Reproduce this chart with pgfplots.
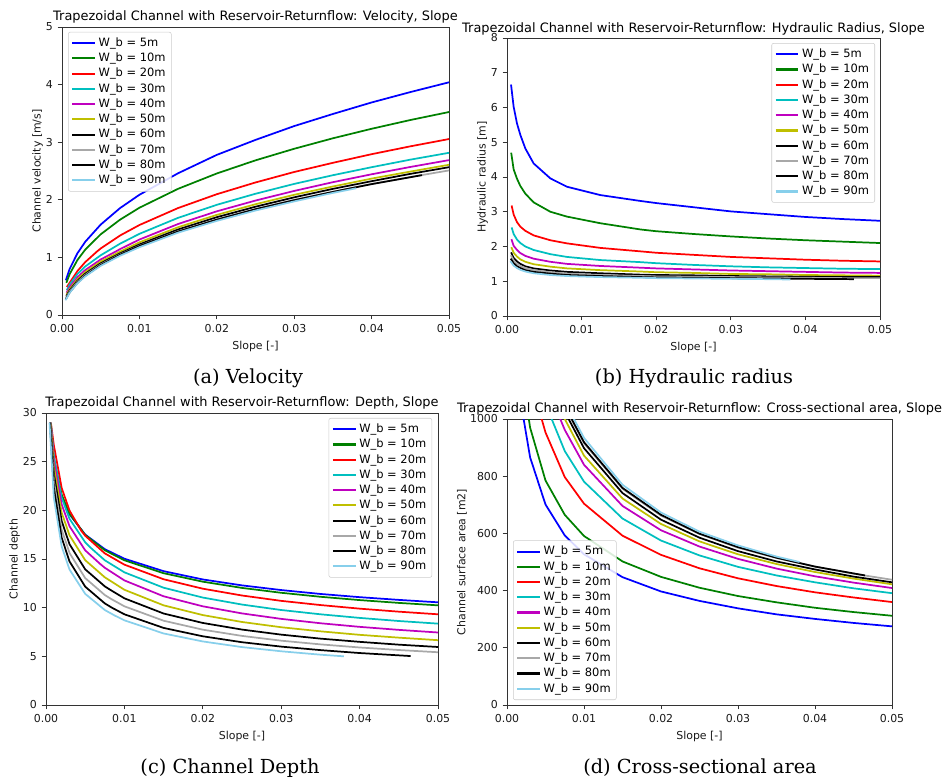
\documentclass[border=0pt]{standalone}
\usepackage{fontspec}
\usepackage{pgfplots}
\usepackage{pgfplotstable}
\pgfplotsset{compat=1.18}
\newfontfamily\dejavu{DejaVu Sans}
\newfontfamily\capfont{DejaVu Serif}
\definecolor{mb}{rgb}{0,0,1}
\definecolor{mg}{rgb}{0,0.5,0}
\definecolor{mr}{rgb}{1,0,0}
\definecolor{mc}{rgb}{0,0.75,0.75}
\definecolor{mm}{rgb}{0.75,0,0.75}
\definecolor{my}{rgb}{0.75,0.75,0}
\definecolor{mk}{rgb}{0,0,0}
\definecolor{mgray}{rgb}{0.66,0.66,0.66}
\definecolor{msky}{rgb}{0.53,0.81,0.92}

% columns: S = slope, d = depth, A = area, V = velocity
\pgfplotstableread{
S d A V
0.0005 29.00 1827 0.602
0.001 24.95 1370 0.803
0.002 21.42 1025 1.073
0.003 19.59 866 1.271
0.005 17.51 701 1.570
0.0075 16.01 593 1.856
0.01 15.03 527 2.087
0.015 13.75 447 2.461
0.02 12.90 397 2.780
0.025 12.29 364 3.040
0.03 11.81 338 3.280
0.035 11.41 317 3.490
0.04 11.08 301 3.690
0.045 10.80 287 3.870
0.05 10.55 275 4.040
}\tA
\pgfplotstableread{
S d A V
0.00056 29.00 1972 0.558
0.001 25.38 1542 0.713
0.002 21.61 1150 0.956
0.003 19.66 970 1.134
0.005 17.47 785 1.401
0.0075 15.90 665 1.655
0.01 14.87 591 1.862
0.015 13.54 502 2.191
0.02 12.67 448 2.457
0.025 12.03 410 2.685
0.03 11.53 381 2.886
0.035 11.12 359 3.068
0.04 10.78 340 3.233
0.045 10.49 325 3.385
0.05 10.24 312 3.524
}\tB
\pgfplotstableread{
S d A V
0.00062 29.00 2262 0.486
0.001 26.70 1960 0.561
0.002 22.30 1441 0.764
0.003 19.98 1198 0.918
0.0045 17.90 1000 1.100
0.005 17.39 953 1.155
0.0075 15.58 797 1.380
0.01 14.42 704 1.562
0.015 12.92 592 1.857
0.02 11.95 525 2.097
0.025 11.25 478 2.301
0.03 10.70 443 2.483
0.035 10.27 416 2.642
0.04 9.90 394 2.792
0.045 9.59 376 2.928
0.05 9.32 360 3.055
}\tC
\pgfplotstableread{
S d A V
0.00062 29.00 2552 0.431
0.001 25.56 2073 0.531
0.002 21.29 1545 0.712
0.003 19.13 1306 0.842
0.005 16.72 1061 1.037
0.0058 16.08 1000 1.101
0.0075 14.87 888 1.238
0.01 13.63 781 1.409
0.015 12.05 652 1.687
0.02 11.04 575 1.913
0.025 10.32 523 2.105
0.03 9.76 483 2.276
0.035 9.32 453 2.427
0.04 8.95 429 2.566
0.045 8.63 408 2.697
0.05 8.36 391 2.816
}\tD
\pgfplotstableread{
S d A V
0.0006 29.00 2842 0.387
0.001 25.09 2263 0.486
0.002 20.61 1674 0.657
0.003 18.37 1410 0.780
0.005 15.89 1141 0.964
0.0069 14.50 1001 1.099
0.0075 14.10 962 1.144
0.01 12.80 840 1.310
0.015 11.17 696 1.580
0.02 10.14 611 1.800
0.025 9.41 554 1.987
0.03 8.85 511 2.154
0.035 8.40 477 2.306
0.04 8.03 450 2.443
0.045 7.72 428 2.570
0.05 7.45 409 2.689
}\tE
\pgfplotstableread{
S d A V
0.00058 29.00 3132 0.351
0.001 24.49 2424 0.454
0.002 19.76 1769 0.622
0.003 17.43 1479 0.744
0.005 14.88 1187 0.927
0.0075 13.12 1000 1.100
0.01 11.84 872 1.261
0.015 10.24 722 1.524
0.02 9.24 633 1.738
0.025 8.53 572 1.923
0.03 7.99 527 2.087
0.035 7.57 493 2.231
0.04 7.21 465 2.368
0.045 6.92 442 2.490
0.05 6.66 422 2.608
}\tF
\pgfplotstableread{
S d A V
0.00055 29.00 3422 0.321
0.001 23.78 2558 0.430
0.002 18.90 1848 0.595
0.003 16.52 1537 0.716
0.005 13.94 1225 0.898
0.0075 12.19 1029 1.069
0.008 11.93 1000 1.100
0.01 10.96 898 1.225
0.015 9.40 741 1.485
0.02 8.43 648 1.698
0.025 7.75 585 1.880
0.03 7.23 538 2.043
0.035 6.82 502 2.190
0.04 6.49 474 2.323
0.045 6.20 449 2.450
0.05 5.96 429 2.566
}\tG
\pgfplotstableread{
S d A V
0.00052 29.00 3712 0.296
0.001 23.02 2671 0.412
0.002 18.02 1911 0.576
0.003 15.62 1581 0.696
0.005 13.04 1253 0.878
0.0075 11.30 1046 1.051
0.0083 10.90 1001 1.099
0.01 10.14 915 1.202
0.015 8.66 756 1.455
0.02 7.74 662 1.663
0.025 7.10 598 1.840
0.03 6.61 550 2.000
0.035 6.23 514 2.141
0.04 5.91 484 2.275
0.045 5.65 459 2.395
0.05 5.42 438 2.510
}\tH
\pgfplotstableread{
S d A V
0.0005 29.00 4002 0.275
0.001 22.32 2782 0.395
0.002 17.19 1966 0.559
0.003 14.75 1615 0.681
0.005 12.16 1269 0.867
0.0075 10.44 1053 1.044
0.0084 10.00 1000 1.100
0.01 9.32 919 1.197
0.015 7.92 759 1.449
0.02 7.06 665 1.655
0.025 6.45 599 1.836
0.03 6.00 552 1.993
0.035 5.64 515 2.137
0.04 5.34 484 2.272
0.0465 5.03 453 2.428
}\tI
\pgfplotstableread{
S d A V
0.00045 29.00 4292 0.256
0.001 21.30 2824 0.389
0.002 16.29 1997 0.551
0.003 13.92 1640 0.671
0.005 11.42 1289 0.854
0.0075 9.76 1069 1.029
0.0087 9.22 1000 1.100
0.01 8.70 934 1.177
0.015 7.35 770 1.430
0.02 6.53 673 1.634
0.025 5.95 606 1.814
0.03 5.52 558 1.972
0.035 5.17 519 2.120
0.038 5.00 500 2.200
}\tJ

% hydraulic radius
\pgfplotstableread{
S R
0.00054 6.66
0.00089 6.02
0.00134 5.54
0.00179 5.21
0.00246 4.82
0.00357 4.39
0.00581 3.96
0.00804 3.72
0.0125 3.48
0.0179 3.31
0.02 3.25
0.025 3.13
0.03 3.01
0.035 2.93
0.04 2.85
0.045 2.79
0.05 2.74
}\rA
\pgfplotstableread{
S R
0.00056 4.70
0.00089 4.22
0.00134 3.95
0.00179 3.74
0.00246 3.52
0.00357 3.27
0.00581 3.00
0.00804 2.86
0.0125 2.67
0.0179 2.49
0.02 2.44
0.025 2.36
0.03 2.29
0.035 2.23
0.04 2.18
0.045 2.14
0.05 2.10
}\rB
\pgfplotstableread{
S R
0.00062 3.18
0.00089 2.92
0.00134 2.70
0.00179 2.57
0.00246 2.45
0.00357 2.32
0.00581 2.18
0.00804 2.09
0.0125 1.96
0.0179 1.86
0.02 1.82
0.025 1.76
0.03 1.70
0.035 1.66
0.04 1.62
0.045 1.59
0.05 1.57
}\rC
\pgfplotstableread{
S R
0.00062 2.55
0.00089 2.36
0.00134 2.20
0.00179 2.10
0.00246 2.00
0.00357 1.90
0.00581 1.78
0.00804 1.70
0.0125 1.61
0.0179 1.55
0.02 1.52
0.025 1.47
0.03 1.43
0.035 1.40
0.04 1.38
0.045 1.36
0.05 1.35
}\rD
\pgfplotstableread{
S R
0.0006 2.21
0.00089 2.02
0.00134 1.90
0.00179 1.81
0.00246 1.73
0.00357 1.65
0.00581 1.56
0.00804 1.50
0.0125 1.44
0.0179 1.39
0.02 1.37
0.025 1.34
0.03 1.31
0.035 1.29
0.04 1.27
0.045 1.25
0.05 1.24
}\rE
\pgfplotstableread{
S R
0.00058 1.98
0.00089 1.82
0.00134 1.71
0.00179 1.63
0.00246 1.56
0.00357 1.49
0.00581 1.42
0.00804 1.37
0.0125 1.32
0.0179 1.28
0.02 1.26
0.025 1.24
0.03 1.21
0.035 1.20
0.04 1.18
0.045 1.17
0.05 1.16
}\rF
\pgfplotstableread{
S R
0.00055 1.83
0.00089 1.67
0.00134 1.57
0.00179 1.50
0.00246 1.43
0.00357 1.37
0.00581 1.31
0.00804 1.27
0.0125 1.23
0.0179 1.19
0.02 1.18
0.025 1.17
0.03 1.15
0.035 1.14
0.04 1.13
0.045 1.12
0.05 1.12
}\rG
\pgfplotstableread{
S R
0.00052 1.75
0.00089 1.60
0.00134 1.50
0.00179 1.44
0.00246 1.38
0.00357 1.32
0.00581 1.26
0.00804 1.22
0.0125 1.18
0.0179 1.15
0.02 1.14
0.025 1.13
0.03 1.12
0.035 1.11
0.04 1.10
0.045 1.09
0.05 1.09
}\rH
\pgfplotstableread{
S R
0.0005 1.65
0.00089 1.52
0.00134 1.43
0.00179 1.38
0.00246 1.32
0.00357 1.27
0.00581 1.22
0.00804 1.18
0.0125 1.15
0.0179 1.12
0.02 1.11
0.025 1.10
0.03 1.09
0.035 1.08
0.04 1.07
0.0465 1.06
}\rI
\pgfplotstableread{
S R
0.00045 1.58
0.00089 1.45
0.00134 1.38
0.00179 1.33
0.00246 1.28
0.00357 1.23
0.00581 1.18
0.00804 1.15
0.0125 1.12
0.0179 1.10
0.02 1.09
0.025 1.08
0.03 1.07
0.035 1.06
0.038 1.05
}\rJ

\pgfplotsset{
  common/.style={
    scale only axis, anchor=south west,
    xmin=0, xmax=0.05,
    xtick={0,0.01,0.02,0.03,0.04,0.05},
    scaled x ticks=false, scaled y ticks=false,
    xticklabel style={/pgf/number format/.cd, fixed, fixed zerofill, precision=2},
    /pgf/number format/1000 sep={},
    /pgf/number format/assume math mode=true,
    tick align=outside, tick pos=left,
    major tick length=3.3pt,
    axis line style={black!80, line width=0.6pt},
    every tick/.style={black!80, line width=0.6pt},
    ticklabel style={font=\dejavu\fontsize{8.2}{9.8}\selectfont, black!90},
    label style={font=\dejavu\fontsize{8.2}{9.8}\selectfont, black!90},
    ylabel style={yshift=-4.5pt},
    title style={font=\dejavu\fontsize{9.7}{11}\selectfont, anchor=base, yshift=-1pt},
    xlabel={Slope [-]},
    legend cell align=left,
    legend style={font=\dejavu\fontsize{8.6}{10.3}\selectfont, draw=black!20, fill=white,
      fill opacity=0.85, text opacity=1, rounded corners=1.5pt, row sep=-0.6pt,
      inner sep=2.2pt},
    legend image code/.code={\draw[##1, line width=1.6pt] (0pt,0pt) -- (17pt,0pt);},
  },
  s1/.style={color=mb, line width=1.3pt, line join=round},
  s2/.style={color=mg, line width=1.3pt, line join=round},
  s3/.style={color=mr, line width=1.3pt, line join=round},
  s4/.style={color=mc, line width=1.3pt, line join=round},
  s5/.style={color=mm, line width=1.3pt, line join=round},
  s6/.style={color=my, line width=1.3pt, line join=round},
  s7/.style={color=mk, line width=1.3pt, line join=round},
  s8/.style={color=mgray, line width=1.3pt, line join=round},
  s9/.style={color=mk, line width=1.3pt, line join=round},
  s10/.style={color=msky, line width=1.3pt, line join=round},
}

\begin{document}
\begin{tikzpicture}
% (a) Velocity
\begin{axis}[common, at={(46.5pt,351pt)}, width=290.25pt, height=216pt,
  ymin=0, ymax=5, ytick={0,1,2,3,4,5},
  title={Trapezoidal Channel with Reservoir-Returnflow: Velocity, Slope},
  ylabel={Channel velocity [m/s]},
  legend style={at={(0.0155,0.983)}, anchor=north west}]
\addplot[s1] table[x=S,y=V]{\tA}; \addlegendentry{W\_b = 5m}
\addplot[s2] table[x=S,y=V]{\tB}; \addlegendentry{W\_b = 10m}
\addplot[s3] table[x=S,y=V]{\tC}; \addlegendentry{W\_b = 20m}
\addplot[s4] table[x=S,y=V]{\tD}; \addlegendentry{W\_b = 30m}
\addplot[s5] table[x=S,y=V]{\tE}; \addlegendentry{W\_b = 40m}
\addplot[s6] table[x=S,y=V]{\tF}; \addlegendentry{W\_b = 50m}
\addplot[s7] table[x=S,y=V]{\tG}; \addlegendentry{W\_b = 60m}
\addplot[s8] table[x=S,y=V]{\tH}; \addlegendentry{W\_b = 70m}
\addplot[s9] table[x=S,y=V]{\tI}; \addlegendentry{W\_b = 80m}
\addplot[s10] table[x=S,y=V]{\tJ}; \addlegendentry{W\_b = 90m}
\end{axis}
% (b) Hydraulic radius
\begin{axis}[common, at={(380.25pt,350.25pt)}, width=279.75pt, height=208.5pt,
  ymin=0, ymax=8, ytick={0,1,2,3,4,5,6,7,8},
  title={Trapezoidal Channel with Reservoir-Returnflow: Hydraulic Radius, Slope},
  title style={yshift=-0.8pt},
  ylabel={Hydraulic radius [m]},
  legend style={at={(0.9866,0.982)}, anchor=north east}]
\addplot[s1] table[x=S,y=R]{\rA}; \addlegendentry{W\_b = 5m}
\addplot[s2] table[x=S,y=R]{\rB}; \addlegendentry{W\_b = 10m}
\addplot[s3] table[x=S,y=R]{\rC}; \addlegendentry{W\_b = 20m}
\addplot[s4] table[x=S,y=R]{\rD}; \addlegendentry{W\_b = 30m}
\addplot[s5] table[x=S,y=R]{\rE}; \addlegendentry{W\_b = 40m}
\addplot[s6] table[x=S,y=R]{\rF}; \addlegendentry{W\_b = 50m}
\addplot[s7] table[x=S,y=R]{\rG}; \addlegendentry{W\_b = 60m}
\addplot[s8] table[x=S,y=R]{\rH}; \addlegendentry{W\_b = 70m}
\addplot[s9] table[x=S,y=R]{\rI}; \addlegendentry{W\_b = 80m}
\addplot[s10] table[x=S,y=R]{\rJ}; \addlegendentry{W\_b = 90m}
\end{axis}
% (c) Depth
\begin{axis}[common, at={(34.5pt,58.5pt)}, width=294pt, height=219pt,
  ymin=0, ymax=30, ytick={0,5,10,15,20,25,30},
  title={Trapezoidal Channel with Reservoir-Returnflow: Depth, Slope},
  ylabel={Channel depth},
  legend style={at={(0.985,0.983)}, anchor=north east}]
\addplot[s1] table[x=S,y=d]{\tA}; \addlegendentry{W\_b = 5m}
\addplot[s2] table[x=S,y=d]{\tB}; \addlegendentry{W\_b = 10m}
\addplot[s3] table[x=S,y=d]{\tC}; \addlegendentry{W\_b = 20m}
\addplot[s4] table[x=S,y=d]{\tD}; \addlegendentry{W\_b = 30m}
\addplot[s5] table[x=S,y=d]{\tE}; \addlegendentry{W\_b = 40m}
\addplot[s6] table[x=S,y=d]{\tF}; \addlegendentry{W\_b = 50m}
\addplot[s7] table[x=S,y=d]{\tG}; \addlegendentry{W\_b = 60m}
\addplot[s8] table[x=S,y=d]{\tH}; \addlegendentry{W\_b = 70m}
\addplot[s9] table[x=S,y=d]{\tI}; \addlegendentry{W\_b = 80m}
\addplot[s10] table[x=S,y=d]{\tJ}; \addlegendentry{W\_b = 90m}
\end{axis}
% (d) Cross-sectional area
\begin{axis}[common, at={(380.25pt,58.5pt)}, width=288.75pt, height=214.5pt,
  ymin=0, ymax=1000, ytick={0,200,400,600,800,1000},
  title={Trapezoidal Channel with Reservoir-Returnflow: Cross-sectional area, Slope},
  ylabel={Channel surface area [m2]},
  legend style={at={(0.0156,0.0175)}, anchor=south west}]
\addplot[s1] table[x=S,y=A]{\tA}; \addlegendentry{W\_b = 5m}
\addplot[s2] table[x=S,y=A]{\tB}; \addlegendentry{W\_b = 10m}
\addplot[s3] table[x=S,y=A]{\tC}; \addlegendentry{W\_b = 20m}
\addplot[s4] table[x=S,y=A]{\tD}; \addlegendentry{W\_b = 30m}
\addplot[s5] table[x=S,y=A]{\tE}; \addlegendentry{W\_b = 40m}
\addplot[s6] table[x=S,y=A]{\tF}; \addlegendentry{W\_b = 50m}
\addplot[s7] table[x=S,y=A]{\tG}; \addlegendentry{W\_b = 60m}
\addplot[s8] table[x=S,y=A]{\tH}; \addlegendentry{W\_b = 70m}
\addplot[s9] table[x=S,y=A]{\tI}; \addlegendentry{W\_b = 80m}
\addplot[s10] table[x=S,y=A]{\tJ}; \addlegendentry{W\_b = 90m}
\end{axis}
% captions
\node[font=\capfont\fontsize{14.5}{17}\selectfont] at (186pt,303.75pt) {(a) Velocity};
\node[font=\capfont\fontsize{14.5}{17}\selectfont] at (520.5pt,303.75pt) {(b) Hydraulic radius};
\node[font=\capfont\fontsize{14.5}{17}\selectfont] at (172.5pt,11.25pt) {(c) Channel Depth};
\node[font=\capfont\fontsize{14.5}{17}\selectfont] at (525pt,11.25pt) {(d) Cross-sectional area};
\pgfresetboundingbox
\useasboundingbox (0,0) rectangle (711pt,587.25pt);
\end{tikzpicture}
\end{document}
